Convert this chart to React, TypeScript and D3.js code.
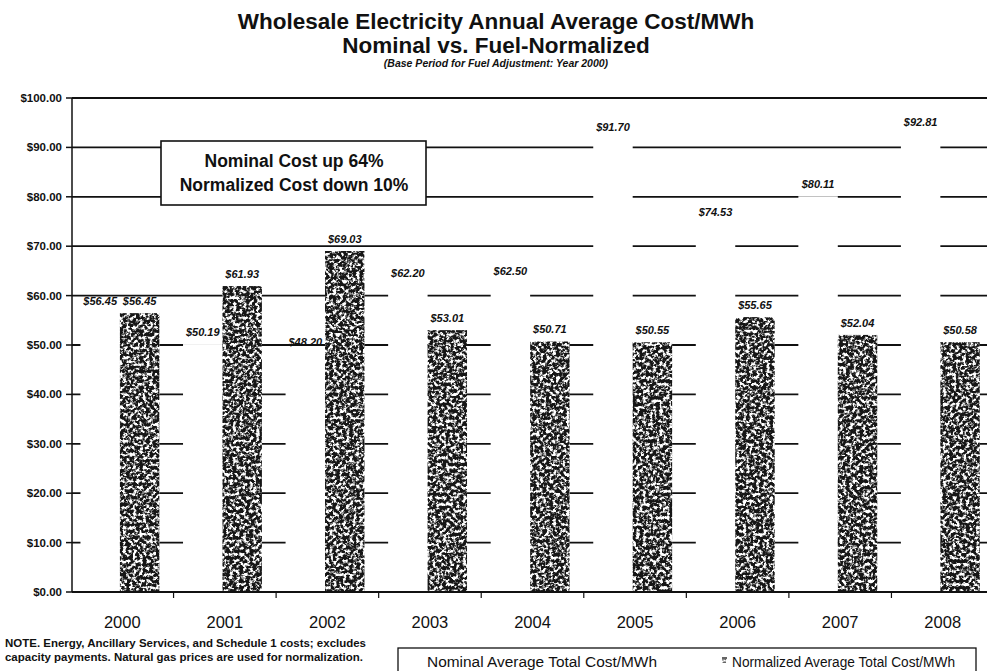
import React from "react";
import * as d3 from "d3";

const years = ["2000", "2001", "2002", "2003", "2004", "2005", "2006", "2007", "2008"];
const nominal = [56.45, 50.19, 48.2, 62.2, 62.5, 91.7, 74.53, 80.11, 92.81];
const normalized = [56.45, 61.93, 69.03, 53.01, 50.71, 50.55, 55.65, 52.04, 50.58];
const seriesKeys = ["nominal", "normalized"];
const yTicks = [0, 10, 20, 30, 40, 50, 60, 70, 80, 90, 100];
const titleLines = ["Wholesale Electricity Annual Average Cost/MWh", "Nominal vs. Fuel-Normalized"];
const subtitle = "(Base Period for Fuel Adjustment: Year 2000)";
const calloutLines = ["Nominal Cost up 64%", "Normalized Cost down 10%"];
const noteLines = [
  "NOTE. Energy, Ancillary Services, and Schedule 1 costs; excludes",
  "capacity payments. Natural gas prices are used for normalization.",
];
const legendLabels = ["Nominal Average Total Cost/MWh", "Normalized Average Total Cost/MWh"];

const W = 987;
const H = 671;
const FONT = "'Liberation Sans', Arial, Helvetica, sans-serif";

export default function App() {
  const y = d3.scaleLinear().domain([0, 100]).range([592, 98]);
  const x0 = d3.scaleBand<string>().domain(years).range([71, 994]).padding(0);
  const x1 = d3
    .scaleBand<string>()
    .domain(seriesKeys)
    .range([0, x0.bandwidth()])
    .paddingInner(0)
    .paddingOuter(0.3)
    .align(0.4);
  const money = d3.format("$.2f");
  const plotLeft = 72;
  const plotRight = 1000;

  return (
    <svg
      width={W}
      height={H}
      viewBox={`0 0 ${W} ${H}`}
      style={{ position: "absolute", left: 0, top: 0, display: "block", background: "#fff" }}
      fontFamily={FONT}
    >
      <defs>
        <filter id="grain" x="0" y="0" width="1" height="1">
          <feTurbulence type="fractalNoise" baseFrequency="0.3" numOctaves="4" seed="11" result="n" />
          <feColorMatrix
            in="n"
            type="matrix"
            values="0 0 0 0 0  0 0 0 0 0  0 0 0 0 0  5 0 0 0 -1.75"
            result="m"
          />
          <feComposite in="SourceGraphic" in2="m" operator="in" />
        </filter>
      </defs>
      <rect width={W} height={H} fill="#fff" />

      {/* Titles */}
      <text x={496} y={29} textAnchor="middle" fontSize={22.5} fontWeight="bold" fill="#111">
        {titleLines[0]}
      </text>
      <text x={496} y={53} textAnchor="middle" fontSize={22.5} fontWeight="bold" fill="#111">
        {titleLines[1]}
      </text>
      <text x={496} y={67} textAnchor="middle" fontSize={10.5} fontWeight="bold" fontStyle="italic" fill="#111">
        {subtitle}
      </text>

      {/* gridlines */}
      {yTicks.map((t) => (
        <line
          key={"g" + t}
          x1={plotLeft}
          x2={plotRight}
          y1={y(t)}
          y2={y(t)}
          stroke="#111"
          strokeWidth={t === 0 ? 2 : 1.8}
        />
      ))}

      {/* nominal bars (white) */}
      {years.map((yr, i) => (
        <rect
          key={"n" + yr}
          x={(x0(yr) ?? 0) + (x1("nominal") ?? 0)}
          y={y(nominal[i])}
          width={x1.bandwidth()}
          height={y(0) - y(nominal[i]) - 1}
          fill="#fff"
        />
      ))}

      {/* normalized bars: white base under speckled dark fill */}
      {years.map((yr, i) => (
        <rect
          key={"zb" + yr}
          x={(x0(yr) ?? 0) + (x1("normalized") ?? 0)}
          y={y(normalized[i])}
          width={x1.bandwidth()}
          height={y(0) - y(normalized[i]) - 1}
          fill="#fff"
        />
      ))}
      <g filter="url(#grain)">
        {years.map((yr, i) => (
          <rect
            key={"z" + yr}
            x={(x0(yr) ?? 0) + (x1("normalized") ?? 0)}
            y={y(normalized[i])}
            width={x1.bandwidth()}
            height={y(0) - y(normalized[i]) - 1}
            fill="#161616"
          />
        ))}
      </g>

      {/* data labels */}
      {years.map((yr, i) => (
        <g key={"l" + yr} fontSize={11} fontWeight="bold" fontStyle="italic" fill="#111" textAnchor="middle">
          <text x={(x0(yr) ?? 0) + (x1("nominal") ?? 0) + x1.bandwidth() / 2} y={y(nominal[i]) - 8}>
            {money(nominal[i])}
          </text>
          <text x={(x0(yr) ?? 0) + (x1("normalized") ?? 0) + x1.bandwidth() / 2} y={y(normalized[i]) - 8}>
            {money(normalized[i])}
          </text>
        </g>
      ))}

      {/* axes */}
      <line x1={plotLeft} x2={plotLeft} y1={y(100)} y2={y(0)} stroke="#111" strokeWidth={1.5} />
      {yTicks.map((t) => (
        <g key={"yt" + t}>
          <line x1={plotLeft - 6} x2={plotLeft} y1={y(t)} y2={y(t)} stroke="#111" strokeWidth={1.5} />
          <text x={62} y={y(t)} dy="0.35em" textAnchor="end" fontSize={11.5} fontWeight="bold" fill="#111">
            {money(t)}
          </text>
        </g>
      ))}
      {years.slice(1).map((yr) => (
        <line key={"xt" + yr} x1={x0(yr)} x2={x0(yr)} y1={y(0)} y2={y(0) + 6} stroke="#111" strokeWidth={1.2} />
      ))}
      {years.map((yr) => (
        <text
          key={"xl" + yr}
          x={(x0(yr) ?? 0) + x0.bandwidth() / 2}
          y={628}
          textAnchor="middle"
          fontSize={16.5}
          fill="#111"
        >
          {yr}
        </text>
      ))}

      {/* callout */}
      <rect x={161} y={141} width={265} height={64} fill="#fff" stroke="#111" strokeWidth={1.6} />
      <text x={294} y={167} textAnchor="middle" fontSize={17.5} fontWeight="bold" fill="#111">
        {calloutLines[0]}
      </text>
      <text x={294} y={191} textAnchor="middle" fontSize={17.5} fontWeight="bold" fill="#111">
        {calloutLines[1]}
      </text>

      {/* note */}
      {noteLines.map((l, i) => (
        <text
          key={"note" + i}
          x={5}
          y={647 + i * 14}
          fontSize={10.5}
          fontWeight="bold"
          fill="#111"
          textLength={i === 0 ? 361 : 358}
          lengthAdjust="spacingAndGlyphs"
        >
          {l}
        </text>
      ))}

      {/* legend */}
      <rect x={398} y={648} width={578} height={40} fill="#fff" stroke="#111" strokeWidth={1.3} />
      <rect x={414} y={657} width={7} height={7} fill="#fff" />
      <text x={427} y={667} fontSize={14} fill="#111" textLength={230} lengthAdjust="spacingAndGlyphs">
        {legendLabels[0]}
      </text>
      <rect x={722} y={657} width={5} height={6} fill="#fff" />
      <g filter="url(#grain)">
        <rect x={722} y={657} width={5} height={6} fill="#666" />
      </g>
      <text x={732} y={667} fontSize={14} fill="#111" textLength={223} lengthAdjust="spacingAndGlyphs">
        {legendLabels[1]}
      </text>
    </svg>
  );
}
